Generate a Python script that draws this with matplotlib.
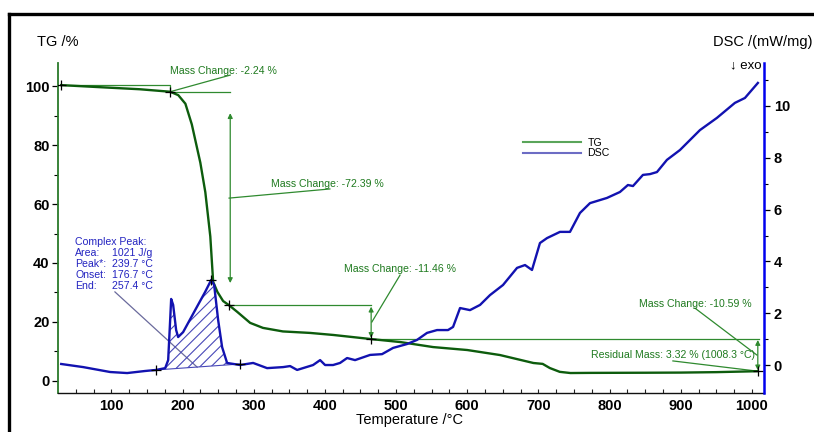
import matplotlib
matplotlib.use("Agg")
import matplotlib.pyplot as plt
from matplotlib.lines import Line2D
import numpy as np

# TG curve (mass %, vs temperature in °C)
tg_temp = [29.5, 84, 140, 182.6, 194, 204, 213, 225, 232, 239, 243, 249, 257, 265.4,
           277, 295, 313, 341, 379, 412, 465, 506, 552, 600, 646, 693, 706, 716, 730,
           745, 773, 850, 900, 950, 1008.3]
tg_mass = [100.3, 99.6, 98.9, 98.06, 96.9, 94.0, 87.0, 74.0, 64.0, 49.0, 33.6, 30.2, 27.1, 25.67,
           23.4, 19.7, 18.0, 16.8, 16.3, 15.6, 14.21, 13.2, 11.5, 10.5, 8.8, 6.1, 5.8, 4.4, 3.1,
           2.7, 2.75, 2.8, 2.85, 3.0, 3.32]

# DSC curve (mW/mg)
dsc_temp = [29.5, 60.4, 98.3, 122.2, 147.5, 162.9, 175.6, 179.8, 182.6, 184.0, 186.8, 191.0,
            193.8, 200.8, 217.7, 231.7, 240.2, 244.4, 250.0, 255.6, 262.6, 280.9, 299.2,
            318.8, 341.3, 351.1, 361.0, 383.4, 393.3, 400.3, 411.5, 421.3, 431.2, 442.4,
            463.5, 480.3, 495.8, 515.4, 529.5, 543.5, 557.6, 573.0, 580.1, 589.9, 603.9,
            618.0, 632.0, 650.3, 670.0, 681.2, 691.0, 702.2, 712.1, 730.3, 744.4, 758.4,
            772.5, 796.3, 814.6, 825.8, 832.9, 846.9, 856.7, 866.6, 880.6, 898.9, 927.0,
            950.8, 976.1, 990.2, 1008.4]
dsc_val = [0.04, -0.08, -0.27, -0.31, -0.23, -0.19, -0.12, 0.19, 1.74, 2.55, 2.32, 1.35,
           1.08, 1.27, 2.12, 2.82, 3.28, 3.09, 1.74, 0.69, 0.08, 0.0, 0.08,
           -0.12, -0.08, -0.04, -0.19, 0.0, 0.19, 0.0, 0.0, 0.08, 0.27, 0.19,
           0.39, 0.42, 0.66, 0.81, 0.97, 1.24, 1.35, 1.35, 1.47, 2.20, 2.12,
           2.32, 2.70, 3.09, 3.75, 3.86, 3.67, 4.71, 4.90, 5.14, 5.14, 5.87,
           6.25, 6.45, 6.68, 6.95, 6.91, 7.34, 7.37, 7.45, 7.92, 8.30, 9.07,
           9.54, 10.12, 10.31, 10.89]

# evaluation points
tg_marks_t = [29.5, 182.6, 265.4, 465, 1008.3]
tg_marks_m = [100.3, 98.06, 25.67, 14.21, 3.32]
peak_marks_t = [162.9, 240.2, 280.9]
peak_marks_v = [-0.19, 3.28, 0.04]

peak_rows = [("Area:", "1021 J/g"), ("Peak*:", "239.7 °C"),
             ("Onset:", "176.7 °C"), ("End:", "257.4 °C")]

TG_C = "#0d5c0d"
ANN_C = "#2f8a2f"
TXT_C = "#1f7a1f"
DSC_C = "#1212b0"

plt.rcParams["font.family"] = ["Liberation Sans", "DejaVu Sans"]
plt.rcParams["hatch.linewidth"] = 0.8

fig = plt.figure(figsize=(8.14, 4.32), dpi=100)
ax = fig.add_axes([58 / 814, 1 - 393 / 432, (764 - 58) / 814, (393 - 63) / 432])
ax2 = ax.twinx()

ax.set_xlim(25, 1017)
ax.set_ylim(-4.07, 107.8)
ax2.set_ylim(-1.08, 11.66)

# TG
ax.plot(tg_temp, tg_mass, color=TG_C, lw=1.7, zorder=3)
ax.plot(tg_marks_t, tg_marks_m, "+", color="k", ms=7, mew=0.9, zorder=4)

# step evaluation lines
ann = dict(color=ANN_C, lw=0.9)
ax.plot([29.5, 182.6, 182.6], [100.3, 100.3, 98.06], **ann)
ax.plot([182.6, 267], [98.06, 98.06], **ann)
ax.plot([265.4, 465], [25.67, 25.67], **ann)
ax.plot([465, 1010], [14.21, 14.21], **ann)

arr = dict(arrowstyle="<|-|>", color=ANN_C, lw=0.9, mutation_scale=7, shrinkA=0, shrinkB=0)
ax.annotate("", xy=(267, 90.8), xytext=(267, 33.2), arrowprops=arr)
ax.annotate("", xy=(465, 25.2), xytext=(465, 14.6), arrowprops=arr)
ax.annotate("", xy=(1008.3, 13.9), xytext=(1008.3, 3.6), arrowprops=arr)

# leader lines and labels
ax.plot([267, 182.6], [103.7, 98.06], **ann)
ax.plot([265.4, 407], [62.0, 65.1], **ann)
ax.plot([505.6, 466], [35.9, 20.0], **ann)
ax.plot([920, 1007], [24.7, 8.8], **ann)
ax.plot([889, 1008.3], [6.8, 3.32], **ann)

fs = 7.6
ax.text(258, 105.1, "Mass Change: -2.24 %", color=TXT_C, fontsize=fs, ha="center", va="center")
ax.text(403, 66.8, "Mass Change: -72.39 %", color=TXT_C, fontsize=fs, ha="center", va="center")
ax.text(505.6, 38.0, "Mass Change: -11.46 %", color=TXT_C, fontsize=fs, ha="center", va="center")
ax.text(920, 26.1, "Mass Change: -10.59 %", color=TXT_C, fontsize=fs, ha="center", va="center")
ax.text(889, 8.8, "Residual Mass: 3.32 % (1008.3 °C)", color=TXT_C, fontsize=fs,
        ha="center", va="center")

# complex peak block
ax.text(49, 47.1, "Complex Peak:", color="#2323c0", fontsize=fs, va="center")
for i, (k, v) in enumerate(peak_rows):
    y = 43.4 - 3.7 * i
    ax.text(49, y, k, color="#2323c0", fontsize=fs, va="center")
    ax.text(101, y, v, color="#2323c0", fontsize=fs, va="center")
ax.plot([105, 220.5], [30.2, 4.7], color="#6a6a9c", lw=0.9)

# DSC
t = np.array(dsc_temp)
d = np.array(dsc_val)
base = np.interp(t, [162.9, 280.9], [-0.19, 0.04])
m = (t >= 175) & (t <= 263)
ax2.fill_between(t[m], d[m], base[m], facecolor="none", edgecolor="#4848b8",
                 hatch="///", lw=0)
ax2.plot([162.9, 280.9], [-0.19, 0.04], color="#4848b8", lw=0.8)
ax2.plot(dsc_temp, dsc_val, color=DSC_C, lw=1.7, zorder=3)
ax2.plot(peak_marks_t, peak_marks_v, "+", color="k", ms=7, mew=0.9, zorder=4)

# legend
handles = [Line2D([], [], color="#5aa55a", lw=1.5), Line2D([], [], color="#6c6cc4", lw=1.5)]
ax.legend(handles, ["TG", "DSC"], loc="center", bbox_to_anchor=(0.72, 0.742),
          frameon=False, fontsize=7.6, handlelength=5.5, handletextpad=0.6,
          labelspacing=0.05)

# axes styling
for s in ["top"]:
    ax.spines[s].set_visible(False)
    ax2.spines[s].set_visible(False)
ax.spines["right"].set_visible(False)
ax2.spines["left"].set_visible(False)
ax2.spines["bottom"].set_visible(False)
ax.spines["left"].set_color("#2a7a2a")
ax.spines["left"].set_linewidth(1.3)
ax.spines["bottom"].set_color("#111111")
ax.spines["bottom"].set_linewidth(1.0)
ax2.spines["right"].set_color("#0000ee")
ax2.spines["right"].set_linewidth(1.8)

ax.set_xticks(range(100, 1001, 100))
ax.set_xticks(np.arange(50, 1001, 25), minor=True)
ax.set_yticks(range(0, 101, 20))
ax.set_yticks(range(10, 101, 20), minor=True)
ax2.set_yticks(range(0, 11, 2))
ax2.set_yticks(range(1, 12, 2), minor=True)

ax.tick_params(axis="x", which="both", direction="in", length=3, width=0.8, labelsize=10.5,
               pad=4, color="#222222")
ax.tick_params(axis="y", which="major", direction="out", length=4, width=0.9, labelsize=10.5,
               pad=2)
ax.tick_params(axis="y", which="minor", direction="out", length=3, width=0.8)
ax2.tick_params(axis="y", which="major", direction="out", length=4, width=0.9, labelsize=10.5,
                pad=3)
ax2.tick_params(axis="y", which="minor", direction="out", length=3, width=0.8)
for lab in ax.get_xticklabels() + ax.get_yticklabels() + ax2.get_yticklabels():
    lab.set_fontweight("bold")

fig.text(410 / 814, 1 - 420 / 432, "Temperature /°C", fontsize=10.5, ha="center", va="center")
fig.text(37 / 814, 1 - 42 / 432, "TG /%", fontsize=10.5, ha="left", va="center")
fig.text(713 / 814, 1 - 42 / 432, "DSC /(mW/mg)", fontsize=10.5, ha="left", va="center")
fig.text(730 / 814, 1 - 65 / 432, "↓ exo", fontsize=9.5, ha="left", va="center")

# page frame
fig.add_artist(Line2D([9 / 814, 9 / 814], [0, 1 - 14 / 432], color="k", lw=2.4,
                      transform=fig.transFigure))
fig.add_artist(Line2D([9 / 814, 1], [1 - 14 / 432, 1 - 14 / 432], color="k", lw=2.4,
                      transform=fig.transFigure))

fig.savefig("out.png", dpi=100)
